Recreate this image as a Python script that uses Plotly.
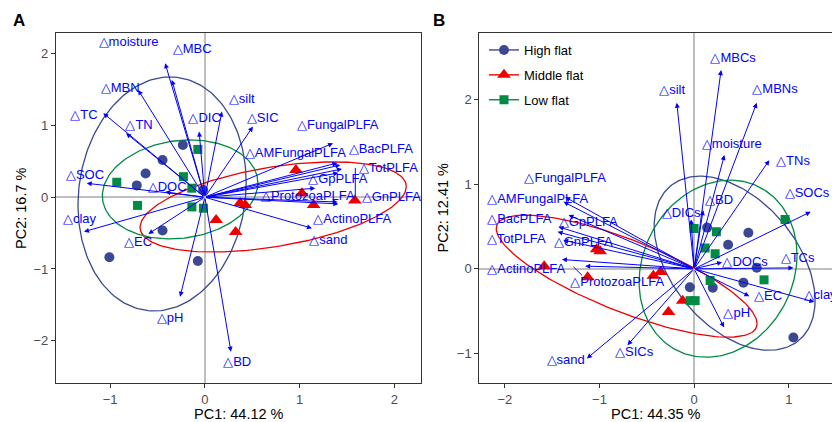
import numpy as np
import plotly.graph_objects as go

# ---------------- data ----------------
groups = ["High flat", "Middle flat", "Low flat"]
colors = ["#3B4992", "#EE0000", "#008B45"]
symbols = ["circle", "triangle-up", "square"]
msizes = [10, 12, 9]

# Panel A sample scores
A_high_x = [-0.232, -0.446, -0.625, -0.718, -0.446, -1.007, -0.074, -0.018]
A_high_y = [0.729, 0.520, 0.332, 0.165, -0.463, -0.837, -0.888, 0.102]
A_mid_x = [0.961, 1.024, 1.147, 1.582, 0.373, 0.426, 0.119, 0.325]
A_mid_y = [0.381, 0.056, -0.107, -0.045, -0.079, -0.107, -0.317, -0.484]
A_low_x = [-0.074, -0.929, -0.226, -0.137, -0.710, -0.137, -0.015]
A_low_y = [0.667, 0.209, 0.287, 0.126, -0.114, -0.135, -0.153]

# Panel A ellipses (center x, center y, sd x, sd y, cov xy) for High, Middle, Low
A_ell_cx = [-0.451, 0.721, -0.261]
A_ell_cy = [0.046, -0.135, 0.109]
A_ell_sx = [0.887, 1.404, 0.820]
A_ell_sy = [1.632, 0.628, 0.690]
A_ell_cxy = [0.138, 0.398, 0.073]

# Panel A variable loadings
A_names = ["moisture", "MBC", "MBN", "TC", "TN", "DIC", "SOC", "DOC", "silt", "SIC",
           "FungalPLFA", "AMFungalPLFA", "BacPLFA", "TotPLFA", "GpPLFA", "ProtozoaPLFA",
           "GnPLFA", "ActinoPLFA", "sand", "BD", "pH", "EC", "clay"]
A_load_x = [-0.419, -0.348, -0.704, -1.071, -0.831, -0.060, -1.246, -0.417, 0.180, 0.507,
            1.352, 1.397, 1.429, 1.447, 1.408, 1.165, 1.408, 1.400, 1.130, 0.275, -0.261, -0.596, -1.275]
A_load_y = [1.869, 1.636, 1.497, 1.172, 0.893, 0.915, 0.195, 0.074, 1.194, 0.985,
            0.753, 0.478, 0.450, 0.395, 0.339, 0.126, -0.093, -0.066, -0.432, -2.153, -1.386, -0.512, -0.480]
A_lab_x = [-0.805, -0.134, -0.894, -1.275, -0.694, -0.002, -1.264, -0.398, 0.389, 0.610,
           1.402, 0.954, 1.856, 1.936, 1.402, 1.086, 1.967, 1.555, 1.302, 0.341, -0.366, -0.704, -1.322]
A_lab_y = [2.152, 2.054, 1.511, 1.138, 0.994, 1.092, 0.297, 0.130, 1.357, 1.092,
           0.994, 0.604, 0.660, 0.395, 0.241, 0.000, -0.010, -0.307, -0.605, -2.311, -1.688, -0.633, -0.317]
A_seg_x = [1.587, 1.587]
A_seg_y = [0.410, 0.004]

# Panel B sample scores
B_high_x = [0.137, 0.573, 0.359, 0.662, 0.521, 0.197, -0.045, 1.049]
B_high_y = [0.488, 0.428, 0.286, 0.014, -0.163, -0.222, -0.217, -0.812]
B_mid_x = [-1.030, -0.993, -1.584, -1.125, -0.430, -0.354, -0.121, -0.271]
B_mid_y = [0.233, 0.209, 0.032, -0.098, -0.080, -0.036, -0.376, -0.509]
B_low_x = [0.961, 0.000, 0.235, 0.116, 0.222, 0.169, 0.739, 0.011, -0.042]
B_low_y = [0.585, 0.478, 0.438, 0.247, 0.178, -0.137, -0.130, -0.376, -0.376]

B_ell_cx = [0.428, -0.713, 0.253]
B_ell_cy = [0.067, -0.086, 0.002]
B_ell_sx = [0.850, 1.378, 0.834]
B_ell_sy = [1.030, 0.722, 1.047]
B_ell_cxy = [-0.375, -0.774, 0.133]

B_names = ["MBCs", "silt", "MBNs", "moisture", "TNs", "SOCs", "BD", "DICs", "TCs", "DOCs",
           "EC", "clay", "pH", "SICs", "sand", "FungalPLFA", "AMFungalPLFA", "BacPLFA",
           "GpPLFA", "TotPLFA", "GnPLFA", "ActinoPLFA", "ProtozoaPLFA"]
B_load_x = [0.285, -0.183, 0.662, 0.320, 0.795, 1.232, 0.095, -0.032, 1.049, 0.296,
            0.584, 1.270, 0.317, -0.704, -1.133, -1.362, -1.380, -1.433, -1.327, -1.443, -1.383, -1.397, -1.151]
B_load_y = [2.351, 1.964, 1.964, 1.346, 1.286, 0.675, 0.695, 0.585, 0.012, 0.079,
            -0.323, -0.391, -0.693, -0.903, -1.060, 0.849, 0.793, 0.497, 0.636, 0.438, 0.340, 0.111, 0.032]
B_lab_x = [0.412, -0.232, 0.855, 0.398, 1.045, 1.193, 0.264, -0.137, 1.093, 0.539,
           0.781, 1.331, 0.451, -0.634, -1.357, -1.362, -1.653, -1.848, -1.119, -1.880, -1.172, -1.774, -0.813]
B_lab_y = [2.490, 2.107, 2.115, 1.472, 1.266, 0.892, 0.801, 0.653, 0.115, 0.071,
           -0.329, -0.323, -0.536, -0.994, -1.092, 1.062, 0.821, 0.585, 0.549, 0.340, 0.308, -0.015, -0.169]
B_seg_x = [-1.275, -1.186]
B_seg_y = [0.024, -0.075]

A_xtitle = "PC1: 44.12 %"
A_ytitle = "PC2: 16.7 %"
B_xtitle = "PC1: 44.35 %"
B_ytitle = "PC2: 12.41 %"

# ---------------- figure ----------------
W, H = 832, 422
MT, MB = 33, 39
PH = H - MT - MB
FONT = "Liberation Sans, Arial, sans-serif"
BLUE = "#0000FF"

fig = go.Figure()


def ellipse(cx, cy, sx, sy, cxy, n=200):
    cov = np.array([[sx * sx, cxy], [cxy, sy * sy]])
    L = np.linalg.cholesky(cov)
    t = np.linspace(0, 2 * np.pi, n)
    pts = L @ np.vstack([np.cos(t), np.sin(t)])
    return cx + pts[0], cy + pts[1]


def add_panel(xa, ya, pts, ell, names, lx, ly, tx, ty, seg):
    for i in range(3):
        ex, ey = ellipse(ell[0][i], ell[1][i], ell[2][i], ell[3][i], ell[4][i])
        fig.add_trace(go.Scatter(x=ex, y=ey, mode="lines", xaxis=xa, yaxis=ya,
                                 line=dict(color=colors[i], width=1.3),
                                 showlegend=False, hoverinfo="skip"))
    for i in range(3):
        fig.add_trace(go.Scatter(x=pts[i][0], y=pts[i][1], mode="markers", xaxis=xa, yaxis=ya,
                                 marker=dict(color=colors[i], symbol=symbols[i], size=msizes[i],
                                             line=dict(width=0)),
                                 showlegend=False))
    fig.add_trace(go.Scatter(x=seg[0], y=seg[1], mode="lines", xaxis=xa, yaxis=ya,
                             line=dict(color=BLUE, width=1), showlegend=False, hoverinfo="skip"))
    fig.add_trace(go.Scatter(x=tx, y=ty, mode="text", xaxis=xa, yaxis=ya,
                             text=["\u25b3" + n for n in names], textposition="middle center",
                             textfont=dict(color=BLUE, size=13, family=FONT),
                             showlegend=False, hoverinfo="skip"))
    xr = "x" if xa == "x" else "x2"
    yr = "y" if ya == "y" else "y2"
    for x, y in zip(lx, ly):
        fig.add_annotation(x=x, y=y, ax=0, ay=0, xref=xr, yref=yr, axref=xr, ayref=yr,
                           text="", showarrow=True, arrowhead=2, arrowsize=1.0,
                           arrowwidth=1, arrowcolor=BLUE, standoff=0, startstandoff=0)


add_panel("x", "y",
          [(A_high_x, A_high_y), (A_mid_x, A_mid_y), (A_low_x, A_low_y)],
          (A_ell_cx, A_ell_cy, A_ell_sx, A_ell_sy, A_ell_cxy),
          A_names, A_load_x, A_load_y, A_lab_x, A_lab_y, (A_seg_x, A_seg_y))
add_panel("x2", "y2",
          [(B_high_x, B_high_y), (B_mid_x, B_mid_y), (B_low_x, B_low_y)],
          (B_ell_cx, B_ell_cy, B_ell_sx, B_ell_sy, B_ell_cxy),
          B_names, B_load_x, B_load_y, B_lab_x, B_lab_y, (B_seg_x, B_seg_y))

# legend entries
for i in range(3):
    fig.add_trace(go.Scatter(x=[None], y=[None], mode="lines+markers", xaxis="x2", yaxis="y2",
                             name=groups[i], legendgroup=groups[i],
                             line=dict(color=colors[i], width=1.4),
                             marker=dict(color=colors[i], symbol=symbols[i], size=msizes[i])))

axis_common = dict(showgrid=False, zeroline=True, zerolinecolor="#BEBEBE", zerolinewidth=1.6,
                   showline=True, linecolor="#333333", linewidth=1.1,
                   ticks="outside", ticklen=4, tickwidth=1, tickcolor="#333333",
                   tickfont=dict(size=13, color="#4D4D4D", family=FONT))

fig.update_layout(
    width=W, height=H,
    margin=dict(l=0, r=0, t=MT, b=MB),
    paper_bgcolor="white", plot_bgcolor="white",
    font=dict(family=FONT),
    xaxis=dict(domain=[56 / W, 421 / W], range=[-1.57, 2.28], tickvals=[-1, 0, 1, 2],
               mirror=True, anchor="y", **axis_common),
    yaxis=dict(domain=[0, 1], range=[-2.59, 2.29], tickvals=[-2, -1, 0, 1, 2],
               mirror=True, anchor="x", **axis_common),
    xaxis2=dict(domain=[479.3 / W, 1], range=[-2.27, 1.457], tickvals=[-2, -1, 0, 1],
                mirror=True, anchor="y2", **axis_common),
    yaxis2=dict(domain=[0, 1], range=[-1.35, 2.79], tickvals=[-1, 0, 1, 2],
                mirror=False, anchor="x2", **axis_common),
    legend=dict(x=484 / W, y=1 - (35 - MT) / PH, xanchor="left", yanchor="top",
                bgcolor="rgba(0,0,0,0)", font=dict(size=13, color="black", family=FONT),
                tracegroupgap=5),
    showlegend=True,
)


def py(p):
    return (H - MB - p) / PH


titles = [
    (19 / W, py(20.5), "<b>A</b>", 17, 0),
    (439 / W, py(20.5), "<b>B</b>", 17, 0),
    (238.5 / W, py(413.5), A_xtitle, 14.5, 0),
    (655.6 / W, py(413.5), B_xtitle, 14.5, 0),
    (21 / W, py(208), A_ytitle, 14.5, -90),
    (442.5 / W, py(208), B_ytitle, 14.5, -90),
]
for x, y, t, s, a in titles:
    fig.add_annotation(x=x, y=y, xref="paper", yref="paper", text=t, showarrow=False,
                       xanchor="center", yanchor="middle", textangle=a,
                       font=dict(size=s, color="black", family=FONT))

fig.write_html("out.html", config={"displayModeBar": False},
               post_script="document.body.style.margin='0px';document.body.style.padding='0px';")
